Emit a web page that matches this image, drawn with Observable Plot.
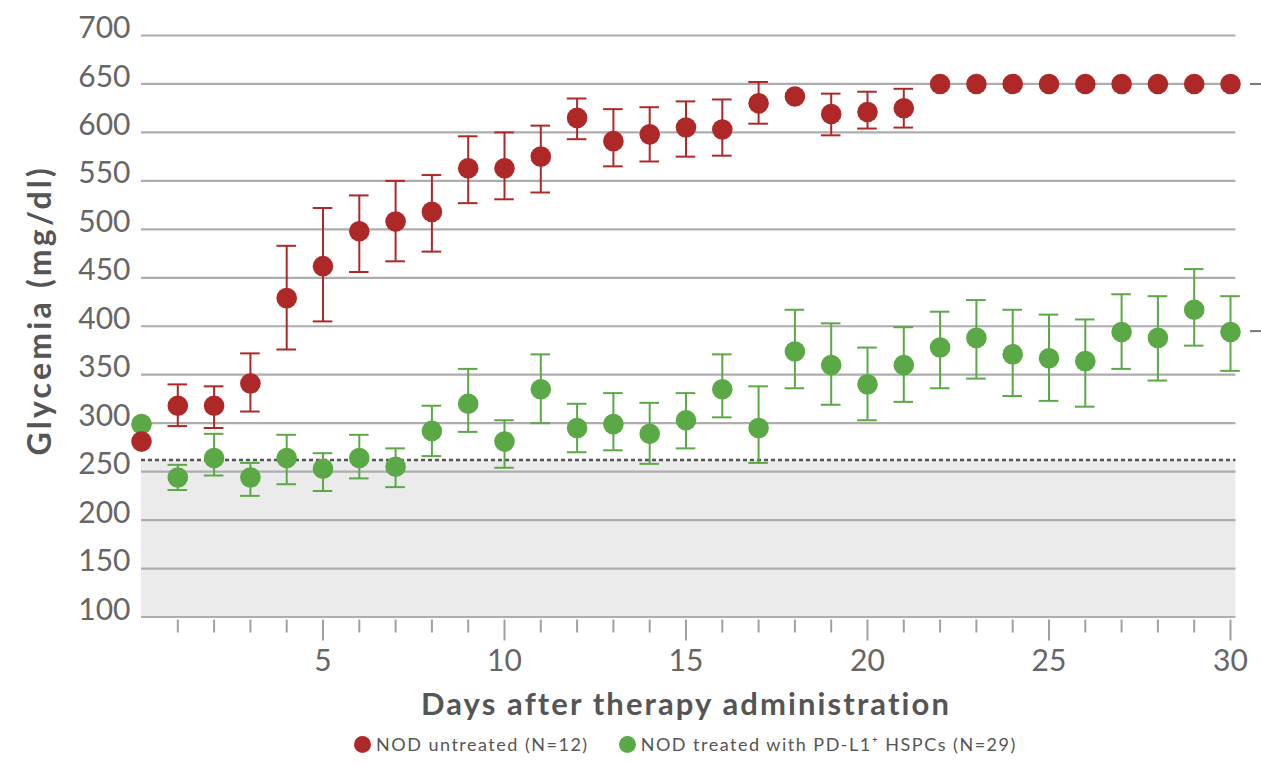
<!DOCTYPE html>
<html>
<head>
<meta charset="utf-8">
<script src="https://cdn.jsdelivr.net/npm/d3@7"></script>
<script src="https://cdn.jsdelivr.net/npm/@observablehq/plot@0.6"></script>
<style>
  html, body { margin: 0; padding: 0; background: #fff; }
  #wrap { position: relative; width: 1261px; height: 764px; overflow: hidden; }
  #legend { position: absolute; left: 354px; top: 733px; display: flex; align-items: center;
    font-family: Lato, "Open Sans", sans-serif; font-size: 18px; letter-spacing: 1.5px; color: #555; white-space: nowrap; }
  .sw { display: inline-block; width: 17px; height: 17px; border-radius: 50%; margin-right: 5px; }
  .item { display: flex; align-items: center; margin-right: 30px; }
</style>
</head>
<body>
<div id="wrap">
  <div id="chart"></div>
  <div id="legend"></div>
</div>
<script>
// ---- data ----
const days = [0,1,2,3,4,5,6,7,8,9,10,11,12,13,14,15,16,17,18,19,20,21,22,23,24,25,26,27,28,29,30];
const untreatedMean = [281,318,318,341,429,462,498,508,518,563,563,575,615,591,598,605,603,630,637,619,621,625,650,650,650,650,650,650,650,650,650];
const untreatedLow  = [null,297,295,312,376,405,456,467,477,527,531,538,593,565,570,575,576,609,null,597,604,605,null,null,null,null,null,null,null,null,null];
const untreatedHigh = [null,340,338,372,483,522,535,550,556,596,600,607,635,624,626,632,634,652,null,640,642,645,null,null,null,null,null,null,null,null,null];
const treatedMean = [299,244,264,244,264,253,264,255,292,320,281,335,295,299,289,303,335,295,374,360,340,360,378,388,371,367,364,394,388,417,394];
const treatedLow  = [null,231,246,225,237,230,243,234,266,291,254,300,270,272,258,274,306,259,336,319,303,322,336,346,328,323,317,356,344,380,354];
const treatedHigh = [null,257,289,259,288,269,288,274,318,356,303,371,320,331,321,331,371,338,417,403,378,399,415,427,417,412,407,433,431,459,431];
const yTicks = [100,150,200,250,300,350,400,450,500,550,600,650,700];
const xLabelTicks = [5,10,15,20,25,30];
const threshold = 262;
const endMarkers = [650, 395];
const seriesNames = ["NOD untreated (N=12)", "NOD treated with PD-L1\u207A HSPCs (N=29)"];
const colors = ["#ae2828", "#5aa846"];
const xTitle = "Days after therapy administration";
const yTitle = "Glycemia (mg/dl)";

// ---- tables ----
const mk = (mean, low, high) => days.map((d, i) => ({day: d, mean: mean[i], low: low[i], high: high[i]}));
const red = mk(untreatedMean, untreatedLow, untreatedHigh);
const green = mk(treatedMean, treatedLow, treatedHigh);
const capHalf = 0.27;
const gridEnd = 30.15;

function seriesMarks(data, color) {
  const eb = data.filter(d => d.low != null);
  return [
    Plot.ruleX(eb, {x: "day", y1: "low", y2: "high", stroke: color, strokeWidth: 2}),
    Plot.ruleY(eb, {y: "low", x1: d => d.day - capHalf, x2: d => d.day + capHalf, stroke: color, strokeWidth: 2}),
    Plot.ruleY(eb, {y: "high", x1: d => d.day - capHalf, x2: d => d.day + capHalf, stroke: color, strokeWidth: 2}),
    Plot.dot(data, {x: "day", y: "mean", r: 10.3, fill: color, stroke: "none"})
  ];
}

const minorDays = days.filter(d => d > 0 && d % 5 !== 0);
const majorDays = days.filter(d => d > 0 && d % 5 === 0);

const chart = Plot.plot({
  width: 1261,
  height: 728,
  marginLeft: 141,
  marginRight: 31,
  marginTop: 35,
  marginBottom: 111.5,
  x: {domain: [0, 30]},
  y: {domain: [100, 700]},
  style: {fontFamily: "Lato, 'Open Sans', sans-serif", background: "white", overflow: "visible"},
  marks: [
    Plot.rectY([threshold], {x1: 0, x2: gridEnd, y1: 100, y2: d => d, fill: "#ebebeb"}),
    Plot.ruleY(yTicks, {x1: 0, x2: gridEnd, stroke: "#adadad", strokeWidth: 2.2}),
    Plot.ruleY([threshold], {x1: 0, x2: gridEnd, stroke: "#555", strokeWidth: 2.6, strokeDasharray: "4,3"}),
    Plot.ruleY(endMarkers, {x1: 30.55, x2: 31.3, stroke: "#777", strokeWidth: 2}),
    Plot.axisY(yTicks, {tickSize: 0, tickPadding: 11, fontSize: 30, fill: "#666", dy: -7, label: null}),
    Plot.axisX(minorDays, {tickSize: 13, dy: 3, stroke: "#a0a0a0", strokeWidth: 2, tickFormat: () => "", label: null}),
    Plot.axisX(majorDays, {tickSize: 21, dy: 3, stroke: "#a0a0a0", strokeWidth: 2, tickFormat: () => "", label: null}),
    Plot.axisX(xLabelTicks, {tickSize: 0, tickPadding: 33, fontSize: 30, fill: "#666", label: null}),
    Plot.text([xTitle], {text: d => d, frameAnchor: "bottom", dy: 88, lineAnchor: "middle", textAnchor: "middle", fontSize: 31, fontWeight: "bold", fill: "#555"}),
    Plot.text([yTitle], {text: d => d, frameAnchor: "left", dx: -101, dy: -16, rotate: -90, lineAnchor: "middle", textAnchor: "middle", fontSize: 32, fontWeight: "bold", fill: "#555"}),
    ...seriesMarks(green, colors[1]),
    ...seriesMarks(red, colors[0])
  ]
});
document.getElementById("chart").appendChild(chart);

// wider letter spacing for the titles (reference uses a wide geometric face)
d3.select(chart).selectAll("text").each(function() {
  const t = this.textContent;
  if (t === xTitle) this.setAttribute("letter-spacing", "2.1px");
  if (t === yTitle) this.setAttribute("letter-spacing", "3.2px");
});

const legend = document.getElementById("legend");
seriesNames.forEach((name, i) => {
  const item = document.createElement("div");
  item.className = "item";
  const sw = document.createElement("span");
  sw.className = "sw";
  sw.style.background = colors[i];
  item.appendChild(sw);
  item.appendChild(document.createTextNode(name));
  legend.appendChild(item);
});
</script>
</body>
</html>
